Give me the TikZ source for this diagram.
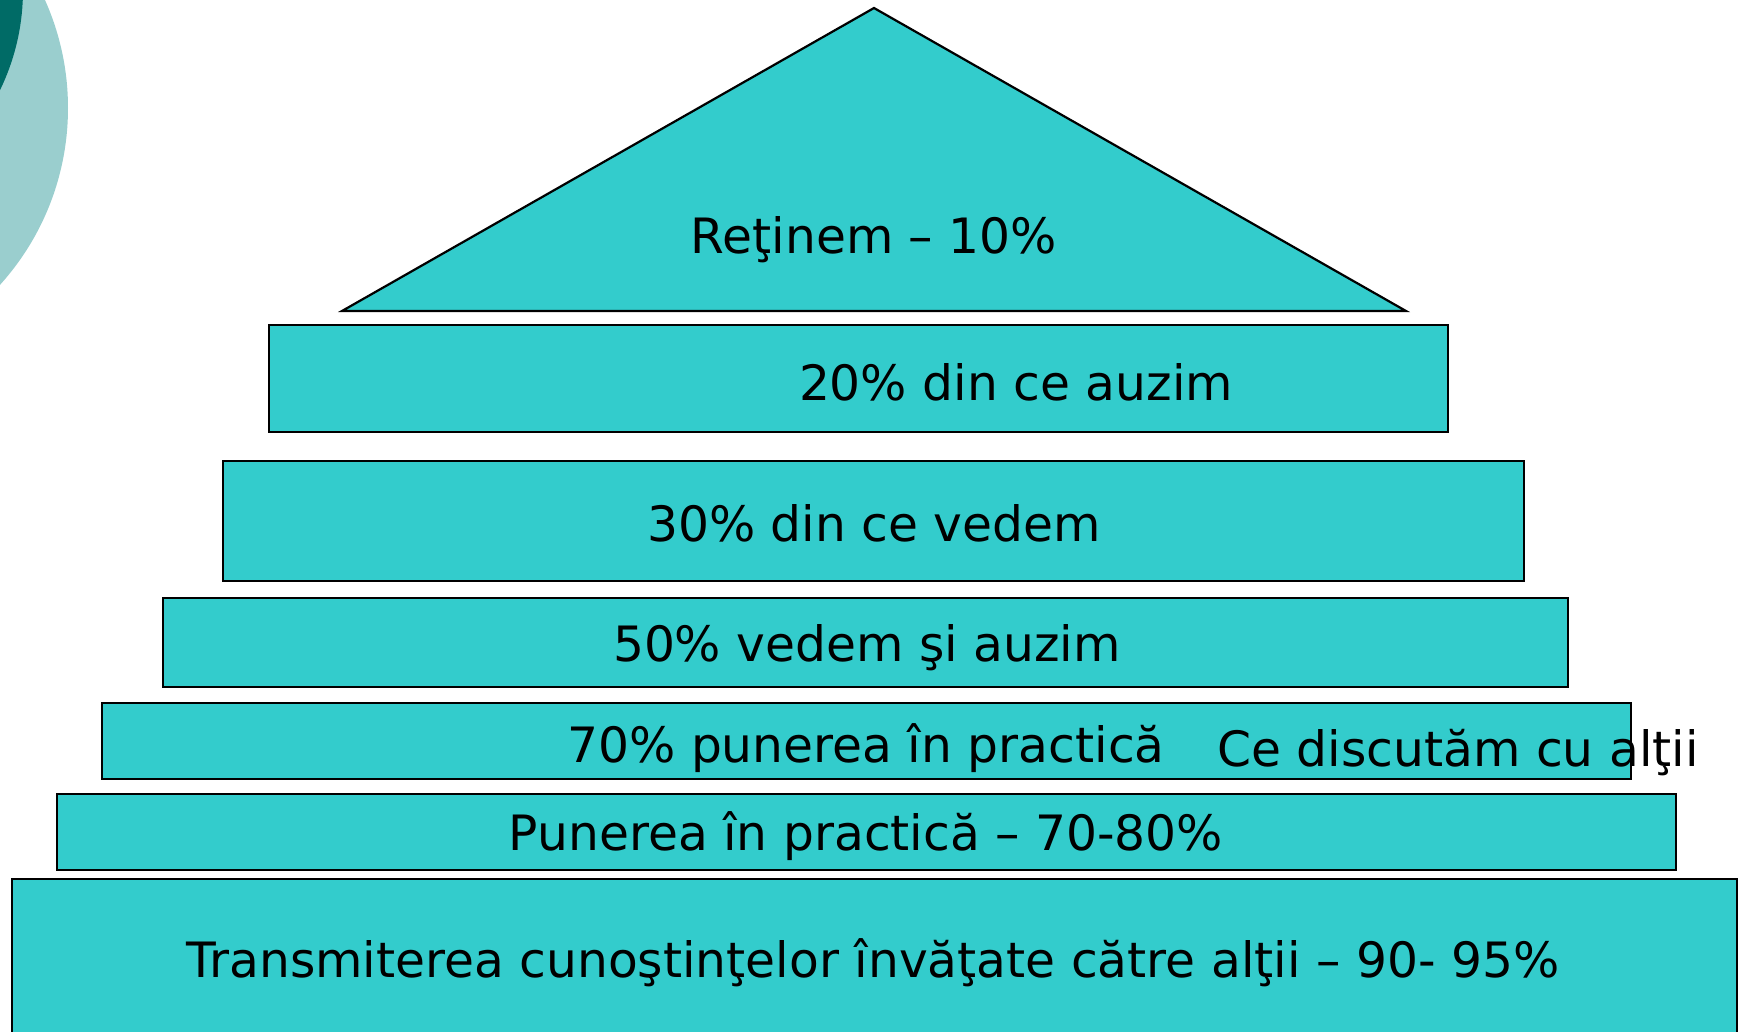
\documentclass[tikz,border=0pt]{standalone}
\usepackage{fontspec}
\setmainfont{DejaVu Sans}
\definecolor{tealfill}{HTML}{33CCCC}
\definecolor{lightcirc}{HTML}{9ACECE}
\definecolor{darkcirc}{HTML}{006B66}
\begin{document}
\begin{tikzpicture}[x=1pt,y=-1pt,
  box/.style={draw=black,line width=2.2pt,fill=tealfill},
  lbl/.style={anchor=base,inner sep=0pt,font=\fontsize{48.7}{56}\selectfont}]
\useasboundingbox (0,0) rectangle (1743,1031);
\clip (0,0) rectangle (1743,1031);
% background circles
\fill[lightcirc] (-196,108) circle (264);
\fill[darkcirc] (-206,-10) circle (229);
% roof
\coordinate (apex) at (874,8);
\coordinate (bl) at (342,311);
\coordinate (br) at (1406,311);
\draw[box,line join=miter] (apex) -- (br) -- (bl) -- cycle;
% boxes
\draw[box] (269,325) rectangle (1448,432);
\draw[box] (223,461) rectangle (1524,581);
\draw[box] (163,598) rectangle (1568,687);
\draw[box] (102,703) rectangle (1631,779);
\draw[box] (57,794) rectangle (1676,870);
\draw[box] (12,879) rectangle (1737,1045);
% labels
\node[lbl] (t0) at (874,253) {Reţinem – 10\%};
\node[lbl] (t1) at (1016,400) {20\% din ce auzim};
\node[lbl] (t2) at (874,541) {30\% din ce vedem};
\node[lbl] (t3) at (867,661) {50\% vedem şi auzim};
\node[lbl] (t4) at (866,762) {70\% punerea în practică};
\node[lbl] (t5) at (1458,766) {Ce discutăm cu alţii};
\node[lbl] (t6) at (866,850) {Punerea în practică – 70-80\%};
\node[lbl] (t7) at (873,977) {Transmiterea cunoştinţelor învăţate către alţii – 90- 95\%};
\end{tikzpicture}
\end{document}
